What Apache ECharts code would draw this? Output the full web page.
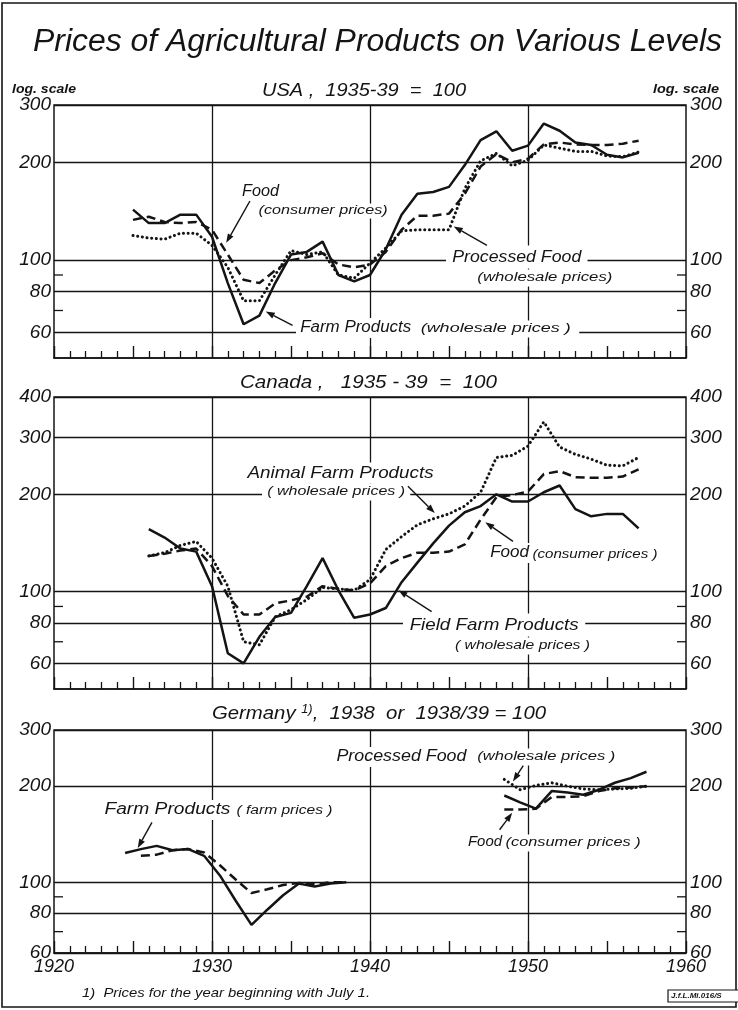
<!DOCTYPE html>
<html><head><meta charset="utf-8">
<script src="https://cdn.jsdelivr.net/npm/echarts@6/dist/echarts.min.js"></script>
<style>html,body{margin:0;padding:0;background:#fff;}#c{width:738px;height:1010px;}</style>
</head><body><div id="c"></div>
<script>
// ---------- DATA ----------
const usaYears = [1925,1926,1927,1928,1929,1930,1931,1932,1933,1934,1935,1936,1937,1938,1939,1940,1941,1942,1943,1944,1945,1946,1947,1948,1949,1950,1951,1952,1953,1954,1955,1956,1957];
const usaFarm      = [143,130,130,138,138,118,85,63.5,67.5,85,104,106,114,90,86,90,108,138,160,162,168,196,234,249,217,225,263,250,230,226,211,207,214];
const usaFood      = [133,136,131,130,131,124,104,87,85,93,100,102,105,97,95,97,106,124,137,137,139,160,194,212,200,205,227,230,227,226,226,228,233];
const usaProcessed = [119,117,116,121,121,111,95,75,75,90,107,104,106,90,88,98,109,123,124,124,124,166,202,213,195,203,226,221,216,216,209,208,215];

const canYears = [1926,1927,1928,1929,1930,1931,1932,1933,1934,1935,1936,1937,1938,1939,1940,1941,1942,1943,1944,1945,1946,1947,1948,1949,1950,1951,1952,1953,1954,1955,1956,1957];
const canField  = [156,147,136,133,104,64.5,60,72.5,83.5,86,104,127,101,83,85,89,107,123,141,160,176,184,200,190,190,203,213,180,171,174,174,157];
const canFood   = [129,131,134,136,120,97,85,85,92,94,96.5,104,102,101,106,120,127,132,132,133,140,167,196,199,204,231,236,226,225,225,227,239];
const canAnimal = [129,132,139,143,127,104,70,68.5,83.5,88,94.5,103,102,101,109,135,148,161,168,174,184,203,260,264,282,335,280,266,257,246,245,260];

const gerFarmPreYears = [1924.5,1925.5,1926.5,1927.5,1928.5,1929.5,1930.5,1931.5,1932.5,1933.5,1934.5,1935.5,1936.5,1937.5,1938.5];
const gerFarmPre      = [123.5,127,130,126,127,121,105,87.5,73.5,82,91,99,97,99,100];
const gerFoodPreYears = [1925.5,1926.5,1927.5,1928.5,1929.5,1930.5,1931.5,1932.5,1933.5,1934.5,1935.5,1936.5,1937.5,1938.5];
const gerFoodPre      = [121,122,126,127,124,113,102,92.5,95,98,99.5,98.5,100,100];
const gerPostYears     = [1948.5,1949.5,1950.5,1951.5,1952.5,1953.5,1954.5,1955.5,1956.5,1957.5];
const gerFarmPost      = [187,178,170,193,191,188,195,205,212,222];
const gerFoodPost      = [169,169,170,185,185,186,193,197,198,200];
const gerProcessedPost = [210,195,201,205,200,196,195,196,197,200];

const yearRange = [1920, 1960];
const decadeLines = [1930, 1940, 1950];
const yRanges = [[50, 300], [50, 400], [60, 300]];
const yTickLabels = [[60, 80, 100, 200, 300], [60, 80, 100, 200, 300, 400], [60, 80, 100, 200, 300]];
const yMinorTicks = [70, 90];

// ---------- STYLE ----------
const INK = '#141414';
const FF = '"Liberation Sans", Arial, sans-serif';
const grids = [
  {left: 54, top: 105, width: 632, height: 253},
  {left: 54, top: 397, width: 632, height: 292},
  {left: 54, top: 730, width: 632, height: 223}
];
const styleSolid  = {color: INK, width: 2.5, type: 'solid'};
const styleDashed = {color: INK, width: 2.5, type: [9, 5]};
const styleDotted = {color: INK, width: 3, type: [0.1, 4.6], cap: 'round'};

function pairs(xs, ys) { return xs.map((x, i) => [x, ys[i]]); }
function lineSeries(g, xs, ys, ls) {
  return {type: 'line', xAxisIndex: g, yAxisIndex: g, data: pairs(xs, ys), showSymbol: false,
    symbol: 'none', smooth: false, lineStyle: ls, z: 3, silent: true, animation: false};
}
function gridSeries(g) {
  const ml = yTickLabels[g].map(v => ({yAxis: v})).concat(decadeLines.map(v => ({xAxis: v})));
  return {type: 'line', xAxisIndex: g, yAxisIndex: g, data: [[1920, 100]], showSymbol: false, symbol: 'none',
    lineStyle: {opacity: 0}, z: 1, silent: true, animation: false,
    markLine: {silent: true, symbol: ['none', 'none'], label: {show: false}, animation: false,
      lineStyle: {color: INK, type: 'solid', width: 1.3}, data: ml}};
}

const chart = echarts.init(document.getElementById('c'), null, {renderer: 'canvas'});
const xAxes = grids.map((g, i) => ({
  type: 'value', gridIndex: i, min: yearRange[0], max: yearRange[1], interval: 5,
  axisLine: {show: true, onZero: false, lineStyle: {color: INK, width: 1.5}},
  axisTick: {show: true, inside: true, length: 12, lineStyle: {color: INK, width: 1.4}},
  minorTick: {show: true, splitNumber: 5, length: 7, lineStyle: {color: INK, width: 1.3}},
  splitLine: {show: false}, minorSplitLine: {show: false},
  axisLabel: i === 2 ? {show: true, margin: 5, color: INK, fontSize: 18, fontStyle: 'italic', fontFamily: FF,
    formatter: v => (v % 10 === 0 ? String(v) : '')} : {show: false}
}));
const yAxes = grids.map((g, i) => ({
  type: 'log', logBase: 10, gridIndex: i, min: yRanges[i][0], max: yRanges[i][1],
  axisLine: {show: false}, axisTick: {show: false}, axisLabel: {show: false}, splitLine: {show: false}
}));

const series = [
  gridSeries(0), gridSeries(1), gridSeries(2),
  lineSeries(0, usaYears, usaFarm, styleSolid),
  lineSeries(0, usaYears, usaFood, styleDashed),
  lineSeries(0, usaYears, usaProcessed, styleDotted),
  lineSeries(1, canYears, canField, styleSolid),
  lineSeries(1, canYears, canFood, styleDashed),
  lineSeries(1, canYears, canAnimal, styleDotted),
  lineSeries(2, gerFarmPreYears, gerFarmPre, styleSolid),
  lineSeries(2, gerFoodPreYears, gerFoodPre, styleDashed),
  lineSeries(2, gerPostYears, gerFarmPost, styleSolid),
  lineSeries(2, gerPostYears, gerFoodPost, styleDashed),
  lineSeries(2, gerPostYears, gerProcessedPost, styleDotted)
];

chart.setOption({
  animation: false,
  backgroundColor: '#fff',
  grid: grids.map(g => Object.assign({show: true, borderColor: INK, borderWidth: 1.5, backgroundColor: 'transparent'}, g)),
  xAxis: xAxes, yAxis: yAxes, series: series
});

// ---------- ANNOTATIONS ----------
const P = (g, x, y) => chart.convertToPixel({gridIndex: g}, [x, y]);
const mctx = document.createElement('canvas').getContext('2d');
function fontOf(size, weight) { return (weight ? weight + ' ' : '') + 'italic ' + size + 'px ' + FF; }
function measure(font, text) { mctx.font = font; return mctx.measureText(text).width; }
const G = [];
function txt(x, y, text, size, opts) {
  opts = opts || {};
  G.push({type: 'text', x: x, y: y, z: opts.z || 50, silent: true, scaleX: opts.sx || 1, style: {
    text: text, font: fontOf(size, opts.weight), fill: INK,
    align: opts.align || 'left', textAlign: opts.align || 'left',
    verticalAlign: 'middle', textVerticalAlign: 'middle',
    backgroundColor: opts.bg === false ? 'transparent' : '#fff', padding: opts.pad || [1, 3]
  }});
}
// place text so that it spans x1..x2 (horizontal stretch to match the original lettering)
function fit(x1, x2, y, text, size, opts) {
  opts = Object.assign({}, opts || {});
  const w = measure(fontOf(size, opts.weight), text);
  opts.sx = (x2 - x1) / w;
  if (opts.align === 'center') txt((x1 + x2) / 2, y, text, size, opts);
  else if (opts.align === 'right') txt(x2, y, text, size, opts);
  else txt(x1, y, text, size, opts);
}
function arrow(g, tail, tip) {
  const a = P(g, tail[0], tail[1]), b = P(g, tip[0], tip[1]);
  const dx = b[0] - a[0], dy = b[1] - a[1], L = Math.hypot(dx, dy), ux = dx / L, uy = dy / L;
  const hl = 9, hw = 3.2;
  const bx = b[0] - ux * hl, by = b[1] - uy * hl;
  G.push({type: 'line', z: 60, silent: true, shape: {x1: a[0], y1: a[1], x2: bx, y2: by}, style: {stroke: INK, lineWidth: 1.4}});
  G.push({type: 'polygon', z: 60, silent: true, shape: {points: [[b[0], b[1]], [bx - uy * hw, by + ux * hw], [bx + uy * hw, by - ux * hw]]}, style: {fill: INK}});
}

// frame and title
G.push({type: 'rect', z: 40, silent: true, shape: {x: 2, y: 3, width: 734, height: 1004}, style: {fill: null, stroke: INK, lineWidth: 1.6}});
fit(33, 722, 42, 'Prices of Agricultural Products on Various Levels', 31, {align: 'center', bg: false, pad: [0, 0]});

// y labels and minor ticks
grids.forEach((g, i) => {
  yTickLabels[i].forEach(v => {
    const p = P(i, 1920, v), q = P(i, 1960, v);
    txt(p[0] - 3, p[1], String(v), 19, {align: 'right', bg: false, pad: [0, 0]});
    txt(q[0] + 4, q[1], String(v), 19, {align: 'left', bg: false, pad: [0, 0]});
  });
  yMinorTicks.forEach(v => {
    const p = P(i, 1920, v), q = P(i, 1960, v);
    G.push({type: 'line', z: 40, silent: true, shape: {x1: p[0], y1: p[1], x2: p[0] + 9, y2: p[1]}, style: {stroke: INK, lineWidth: 1.3}});
    G.push({type: 'line', z: 40, silent: true, shape: {x1: q[0] - 9, y1: q[1], x2: q[0], y2: q[1]}, style: {stroke: INK, lineWidth: 1.3}});
  });
});

// panel headers
fit(12, 76, 90, 'log. scale', 12, {weight: 'bold', bg: false, pad: [0, 0]});
fit(653, 719, 90, 'log. scale', 12, {weight: 'bold', bg: false, pad: [0, 0]});
fit(262, 466, 91, 'USA ,  1935-39  =  100', 19, {align: 'center', bg: false, pad: [0, 0]});
fit(240, 497, 383, 'Canada ,   1935 - 39  =  100', 19, {align: 'center', bg: false, pad: [0, 0]});
G.push({type: 'text', x: 379, y: 714, z: 50, silent: true, scaleX: 1.07, style: {
  text: '{a|Germany }{s|1)}{a|,  1938  or  1938/39 = 100}', fill: INK,
  align: 'center', textAlign: 'center', verticalAlign: 'middle', textVerticalAlign: 'middle',
  rich: {a: {font: fontOf(19), fill: INK}, s: {font: fontOf(12), fill: INK, verticalAlign: 'top', padding: [0, 0, 8, 0]}}
}});

// USA labels
fit(240, 277, 192, 'Food', 16, {pad: [1, 2]});
fit(256, 385, 211, '(consumer prices)', 12.5, {pad: [1, 2]});
arrow(0, [1932.4, 152], [1930.9, 113]);
fit(446, 575, 257, 'Processed Food', 17, {pad: [3, 6]});
fit(472, 607, 278, '(wholesale prices)', 12.5, {pad: [2, 4]});
arrow(0, [1947.4, 111], [1945.3, 127]);
fit(296, 407, 328, 'Farm Products', 16, {pad: [2, 4]});
fit(412, 562, 329, '(wholesale prices )', 12.5, {pad: [2, 6]});
arrow(0, [1935.1, 63], [1933.4, 69.5]);

// Canada labels
fit(242, 428, 473, 'Animal Farm Products', 17, {pad: [2, 5]});
fit(262, 400, 492, '( wholesale prices )', 12.5, {pad: [2, 4]});
arrow(1, [1942.4, 212], [1944.1, 175]);
fit(488, 527, 553, 'Food', 16, {pad: [2, 2]});
fit(530, 655, 555, '(consumer prices )', 12.5, {pad: [2, 2]});
arrow(1, [1949.05, 143], [1947.3, 164]);
fit(403, 572, 625, 'Field Farm Products', 17, {pad: [3, 6]});
fit(450, 585, 646, '( wholesale prices )', 12.5, {pad: [2, 4]});
arrow(1, [1943.9, 86.7], [1941.8, 101]);

// Germany labels
fit(332, 462, 757, 'Processed Food', 16, {pad: [2, 4]});
fit(472, 610, 757, '(wholesale prices )', 12.5, {pad: [2, 4]});
arrow(2, [1949.7, 232], [1949.05, 207]);
fit(466, 500, 842, 'Food', 15, {pad: [2, 2]});
fit(503, 638, 843, '(consumer prices )', 12.5, {pad: [2, 2]});
arrow(2, [1948.2, 146], [1949.0, 165]);
fit(102, 228, 810, 'Farm Products', 16, {pad: [2, 2]});
fit(234, 330, 811, '( farm prices )', 12.5, {pad: [2, 2]});
arrow(2, [1926.2, 154], [1925.3, 128]);

// footnote & stamp
fit(82, 370, 993, '1)  Prices for the year beginning with July 1.', 13, {bg: false, pad: [0, 0]});
G.push({type: 'rect', z: 45, silent: true, shape: {x: 668, y: 990, width: 72, height: 12}, style: {fill: '#fff', stroke: INK, lineWidth: 1.2}});
txt(671, 996, 'J.f.L.Mi.016/S', 8, {weight: 'bold', bg: false, pad: [0, 0], z: 55});

chart.setOption({graphic: {elements: G}});
</script></body></html>
